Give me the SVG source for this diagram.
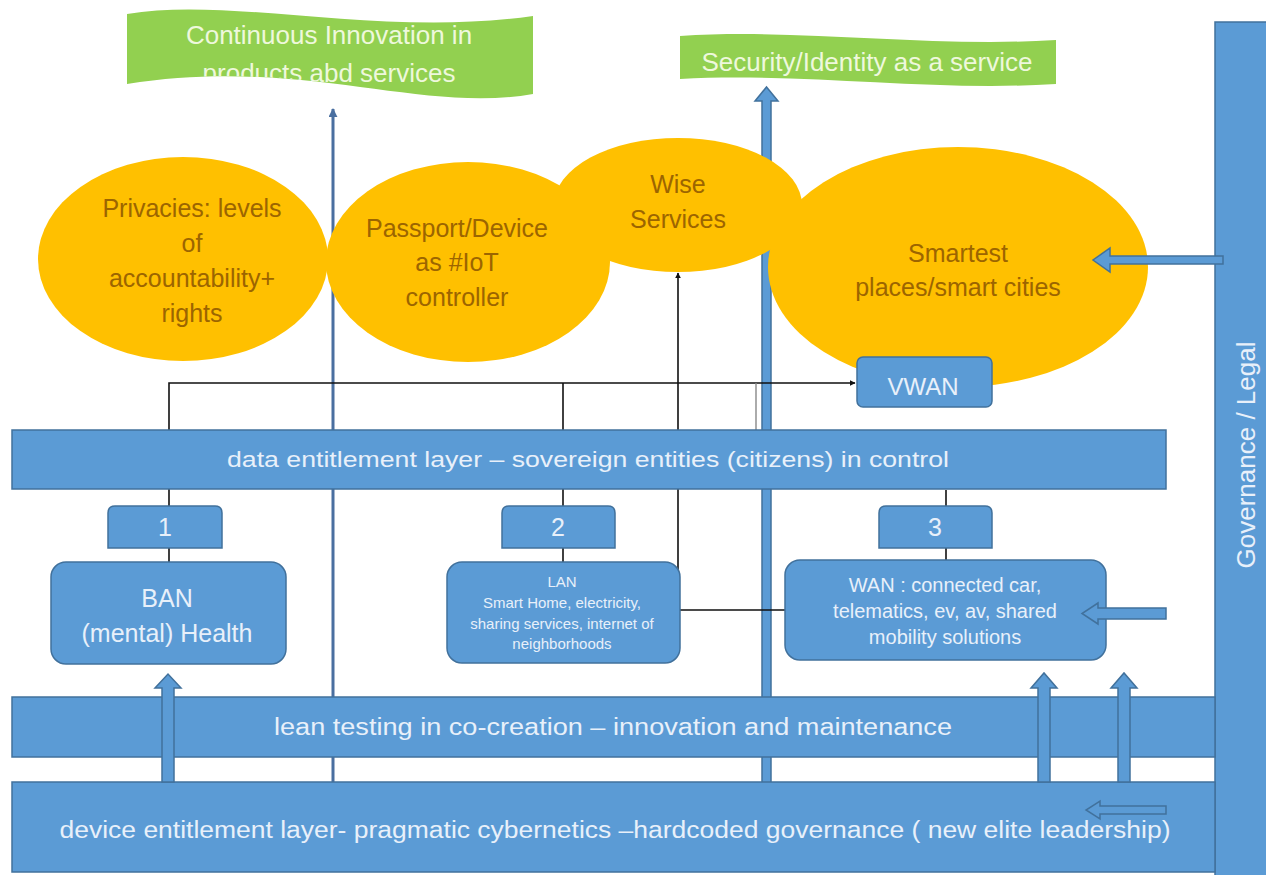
<svg xmlns="http://www.w3.org/2000/svg" width="1266" height="875" viewBox="0 0 1266 875">
<defs>
<style>
.blue{fill:#5b9bd5;stroke:#41719c;stroke-width:1.5}
.orange{fill:#ffc000}
.green{fill:#92d050}
.wt{font-family:"Liberation Sans",Arial,sans-serif;fill:#e8f0fa;text-anchor:middle}
.ot{font-family:"Liberation Sans",Arial,sans-serif;fill:#9c6500;text-anchor:middle;font-size:25px}
.gt{font-family:"Liberation Sans",Arial,sans-serif;fill:#eef8dc;text-anchor:middle}
.blk{fill:none;stroke:#111;stroke-width:1.6}
</style>
<marker id="ah" viewBox="0 0 10 10" refX="9" refY="5" markerWidth="6" markerHeight="6" orient="auto" markerUnits="userSpaceOnUse">
<path d="M0,0 L10,5 L0,10 Z" fill="#111"/>
</marker>
<marker id="ah2" viewBox="0 0 10 10" refX="9" refY="5" markerWidth="9" markerHeight="9" orient="auto" markerUnits="userSpaceOnUse">
<path d="M0,0 L10,5 L0,10 Z" fill="#4a6fa0"/>
</marker>
<clipPath id="b1clip"><path d="M127,14 C230,-4 380,38 533,16 L533,94 C420,114 300,56 127,84 Z"/></clipPath>
</defs>
<rect width="1266" height="875" fill="#ffffff"/>

<g id="banner-innovation">
<path class="green" d="M127,14 C230,-4 380,38 533,16 L533,94 C420,114 300,56 127,84 Z"/>
<g clip-path="url(#b1clip)">
<text class="gt" x="329" y="44" font-size="26">Continuous Innovation in</text>
<text class="gt" x="329" y="82" font-size="26">products abd services</text>
</g>
</g>

<g id="banner-security">
<path class="green" d="M680,36 C800,28 930,48 1056,40 L1056,84 C930,92 800,72 680,79 Z"/>
<text class="gt" x="867" y="71" font-size="26">Security/Identity as a service</text>
</g>

<g id="governance">
<rect class="blue" x="1215" y="22" width="60" height="860"/>
<text class="wt" font-size="26" transform="translate(1255,455) rotate(-90)">Governance / Legal</text>
</g>

<g id="connectors">
<line x1="333" y1="783" x2="333" y2="109" stroke="#4a6fa0" stroke-width="3" marker-end="url(#ah2)"/>
<path class="blue" d="M762,783 V101 H755 L766.5,87 L778,101 H771 V783 Z"/>
<path class="blk" d="M169,562 V383 H855" marker-end="url(#ah)"/>
<path class="blk" d="M563,562 V383"/>
<path d="M756,383 V430" fill="none" stroke="#888" stroke-width="1.4"/>
<path class="blk" d="M946,490 V560"/>
<path class="blk" d="M785,610 H678 V273" marker-end="url(#ah)"/>
</g>

<g id="privacies">
<ellipse class="orange" cx="183" cy="259" rx="145" ry="102"/>
<text class="ot" x="192" y="217">Privacies: levels</text>
<text class="ot" x="192" y="252">of</text>
<text class="ot" x="192" y="287">accountability+</text>
<text class="ot" x="192" y="322">rights</text>
</g>
<g id="passport">
<ellipse class="orange" cx="468" cy="262" rx="142" ry="100"/>
<text class="ot" x="457" y="237">Passport/Device</text>
<text class="ot" x="457" y="271">as #IoT</text>
<text class="ot" x="457" y="306">controller</text>
</g>
<g id="wise">
<ellipse class="orange" cx="678" cy="205" rx="124" ry="67"/>
<text class="ot" x="678" y="193">Wise</text>
<text class="ot" x="678" y="228">Services</text>
</g>
<g id="smartest">
<ellipse class="orange" cx="958" cy="267" rx="190" ry="120"/>
<text class="ot" x="958" y="262">Smartest</text>
<text class="ot" x="958" y="296">places/smart cities</text>
</g>

<g id="vwan">
<rect class="blue" x="857" y="357" width="135" height="50" rx="6"/>
<text class="wt" x="923" y="395" font-size="24">VWAN</text>
</g>

<g id="data-layer">
<rect class="blue" x="12" y="430" width="1154" height="59"/>
<text class="wt" x="588" y="467" font-size="22" textLength="722" lengthAdjust="spacingAndGlyphs">data entitlement layer – sovereign entities (citizens) in control</text>
</g>

<g id="box1">
<path class="blue" d="M108,548 V513 Q108,506 115,506 H215 Q222,506 222,513 V548 Z"/>
<text class="wt" x="165" y="536" font-size="25">1</text>
</g>
<g id="box2">
<path class="blue" d="M502,548 V513 Q502,506 509,506 H608 Q615,506 615,513 V548 Z"/>
<text class="wt" x="558" y="536" font-size="25">2</text>
</g>
<g id="box3">
<path class="blue" d="M879,548 V513 Q879,506 886,506 H985 Q992,506 992,513 V548 Z"/>
<text class="wt" x="935" y="536" font-size="25">3</text>
</g>

<g id="ban">
<rect class="blue" x="51" y="562" width="235" height="102" rx="15"/>
<text class="wt" x="167" y="607" font-size="25">BAN</text>
<text class="wt" x="167" y="642" font-size="25">(mental) Health</text>
</g>
<g id="lan">
<rect class="blue" x="447" y="562" width="233" height="101" rx="15"/>
<text class="wt" x="562" y="587" font-size="15">LAN</text>
<text class="wt" x="562" y="608" font-size="15">Smart Home, electricity,</text>
<text class="wt" x="562" y="629" font-size="15">sharing services, internet of</text>
<text class="wt" x="562" y="649" font-size="15">neighborhoods</text>
</g>
<g id="wan">
<rect class="blue" x="785" y="560" width="321" height="100" rx="15"/>
<text class="wt" x="945" y="592" font-size="20">WAN : connected car,</text>
<text class="wt" x="945" y="618" font-size="20">telematics, ev, av, shared</text>
<text class="wt" x="945" y="644" font-size="20">mobility solutions</text>
</g>

<g id="lean-layer">
<rect class="blue" x="12" y="697" width="1203" height="60"/>
<text class="wt" x="613" y="735" font-size="23" textLength="678" lengthAdjust="spacingAndGlyphs">lean testing in co-creation  –  innovation and maintenance</text>
</g>

<g id="device-layer">
<rect class="blue" x="12" y="782" width="1203" height="90"/>
<text class="wt" x="615" y="838" font-size="23" textLength="1111" lengthAdjust="spacingAndGlyphs">device entitlement layer- pragmatic cybernetics –hardcoded governance ( new elite leadership)</text>
</g>

<g id="connectors-front">
<path class="blue" d="M1223,256 H1110 V248 L1093,260 L1110,272 V264 H1223 Z"/>
<path class="blue" d="M1166,608 H1098 V603 L1082,613.5 L1098,624 V619 H1166 Z"/>
<path class="blue" d="M1166,806 H1100 V801 L1086,810 L1100,819 V814 H1166 Z"/>
<path class="blue" d="M162,782 V688 H155 L168,674 L181,688 H174 V782 Z"/>
<path class="blue" d="M1038,782 V688 H1031 L1044,673 L1057,688 H1050 V782 Z"/>
<path class="blue" d="M1118,782 V688 H1111 L1124,673 L1137,688 H1130 V782 Z"/>
</g>
</svg>
